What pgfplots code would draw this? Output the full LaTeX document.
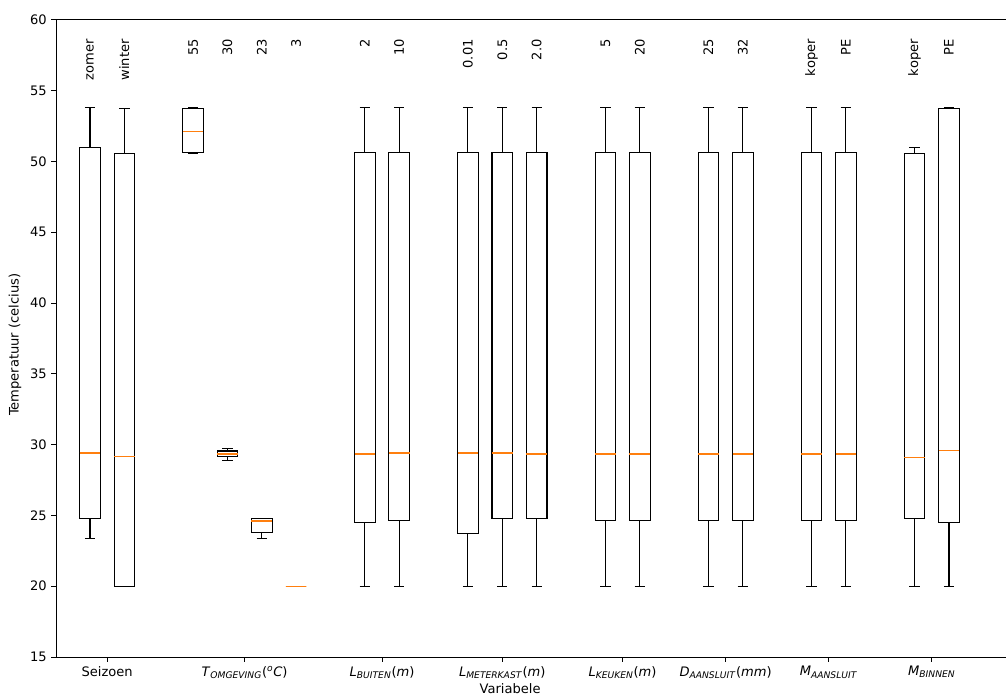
\documentclass[border=0pt]{standalone}
\usepackage{fontspec}
\setmainfont{DejaVu Sans}
\usepackage{pgfplots}
\pgfplotsset{compat=1.18}
\usepgfplotslibrary{statistics}
\definecolor{mplorange}{HTML}{FF7F0E}
\pgfplotsset{
  boxplot/draw direction=y,
  boxplot/box extend=0.6,
  boxplot/whisker extend=0.3,
  boxplot/every median/.style={draw=mplorange, line width=1.1pt},
  mybox/.style={draw=black, line width=0.8pt, solid, mark=none, forget plot},
}
\newcommand{\tl}[1]{\textit{#1}}
\begin{document}
\fontsize{9.6pt}{11.5pt}\selectfont
\begin{tikzpicture}
\begin{axis}[
  scale only axis, width=712.5pt, height=478pt,
  xmin=-0.99, xmax=26.66, ymin=15, ymax=60,
  axis x line*=box, axis y line*=left,
  xtick pos=bottom, ytick pos=left,
  ytick={15,20,...,60},
  xtick={0.5,4.5,8.5,12,15.5,18.5,21.5,24.5},
  xticklabels={Seizoen,
    {\tl{T}\textsubscript{\tl{OMGEVING}}(\textsuperscript{\tl{o}}\tl{C})},
    {\tl{L}\textsubscript{\tl{BUITEN}}(\tl{m})},
    {\tl{L}\textsubscript{\tl{METERKAST}}(\tl{m})},
    {\tl{L}\textsubscript{\tl{KEUKEN}}(\tl{m})},
    {\tl{D}\textsubscript{\tl{AANSLUIT}}(\tl{mm})},
    {\tl{M}\textsubscript{\tl{AANSLUIT}}},
    {\tl{M}\textsubscript{\tl{BINNEN}}}},
  tick align=outside, major tick length=3.6pt,
  tick style={black, line width=0.6pt},
  axis line style={black, line width=0.6pt},
  ticklabel style={font=\fontsize{9.8pt}{11.5pt}\selectfont},
  label style={font=\fontsize{9.8pt}{11.5pt}\selectfont},
  /pgf/number format/assume math mode=true,
  ylabel={Temperatuur (celcius)},
  xlabel={Variabele},
  ylabel style={at={(ticklabel cs:0.49)}},
  xlabel style={at={(ticklabel cs:0.478)}, yshift=3pt},
  clip=false,
]
\addplot[mybox, boxplot prepared={draw position=0, lower whisker=23.4, lower quartile=24.8, median=29.4, upper quartile=51.0, upper whisker=53.8}] coordinates {};
\addplot[mybox, boxplot prepared={draw position=1, lower whisker=20, lower quartile=20, median=29.15, upper quartile=50.55, upper whisker=53.7}] coordinates {};
\addplot[mybox, boxplot prepared={draw position=3, lower whisker=50.55, lower quartile=50.65, median=52.1, upper quartile=53.7, upper whisker=53.8}] coordinates {};
\addplot[mybox, boxplot prepared={draw position=4, lower whisker=28.9, lower quartile=29.15, median=29.35, upper quartile=29.55, upper whisker=29.7}] coordinates {};
\addplot[mybox, boxplot prepared={draw position=5, lower whisker=23.4, lower quartile=23.8, median=24.6, upper quartile=24.8, upper whisker=24.8}] coordinates {};
\addplot[mybox, draw=mplorange, boxplot prepared={draw position=6, whisker extend=0, lower whisker=20, lower quartile=20, median=20, upper quartile=20, upper whisker=20}] coordinates {};
\addplot[mybox, boxplot prepared={draw position=8, lower whisker=20, lower quartile=24.5, median=29.35, upper quartile=50.6, upper whisker=53.8}] coordinates {};
\addplot[mybox, boxplot prepared={draw position=9, lower whisker=20, lower quartile=24.65, median=29.4, upper quartile=50.65, upper whisker=53.8}] coordinates {};
\addplot[mybox, boxplot prepared={draw position=11, lower whisker=20, lower quartile=23.7, median=29.4, upper quartile=50.65, upper whisker=53.8}] coordinates {};
\addplot[mybox, boxplot prepared={draw position=12, lower whisker=20, lower quartile=24.75, median=29.4, upper quartile=50.6, upper whisker=53.8}] coordinates {};
\addplot[mybox, boxplot prepared={draw position=13, lower whisker=20, lower quartile=24.75, median=29.35, upper quartile=50.65, upper whisker=53.8}] coordinates {};
\addplot[mybox, boxplot prepared={draw position=15, lower whisker=20, lower quartile=24.65, median=29.35, upper quartile=50.65, upper whisker=53.8}] coordinates {};
\addplot[mybox, boxplot prepared={draw position=16, lower whisker=20, lower quartile=24.65, median=29.35, upper quartile=50.6, upper whisker=53.8}] coordinates {};
\addplot[mybox, boxplot prepared={draw position=18, lower whisker=20, lower quartile=24.65, median=29.35, upper quartile=50.6, upper whisker=53.8}] coordinates {};
\addplot[mybox, boxplot prepared={draw position=19, lower whisker=20, lower quartile=24.65, median=29.35, upper quartile=50.65, upper whisker=53.8}] coordinates {};
\addplot[mybox, boxplot prepared={draw position=21, lower whisker=20, lower quartile=24.65, median=29.35, upper quartile=50.6, upper whisker=53.8}] coordinates {};
\addplot[mybox, boxplot prepared={draw position=22, lower whisker=20, lower quartile=24.65, median=29.35, upper quartile=50.65, upper whisker=53.8}] coordinates {};
\addplot[mybox, boxplot prepared={draw position=24, lower whisker=20, lower quartile=24.8, median=29.1, upper quartile=50.55, upper whisker=51.0}] coordinates {};
\addplot[mybox, boxplot prepared={draw position=25, lower whisker=20, lower quartile=24.5, median=29.6, upper quartile=53.7, upper whisker=53.8}] coordinates {};
% top labels
\foreach \p/\t in {0/zomer,1/winter,3/55,4/30,5/23,6/3,8/2,9/10,11/0.01,12/0.5,13/2.0,15/5,16/20,18/25,19/32,21/koper,22/PE,24/koper,25/PE}{
  \edef\tmp{\noexpand\node[rotate=90, anchor=east, inner sep=0pt, font=\noexpand\fontsize{9.8pt}{11.5pt}\noexpand\selectfont] at (axis cs:\p,58.64) {\t};}
  \tmp
}
\coordinate (bl) at (rel axis cs:0,0);
\coordinate (tr) at (rel axis cs:1,1);
\end{axis}
\pgfresetboundingbox
\useasboundingbox ([shift={(-42pt,-29.25pt)}]bl) rectangle ([shift={(0pt,14.8pt)}]tr);
\end{tikzpicture}
\end{document}
